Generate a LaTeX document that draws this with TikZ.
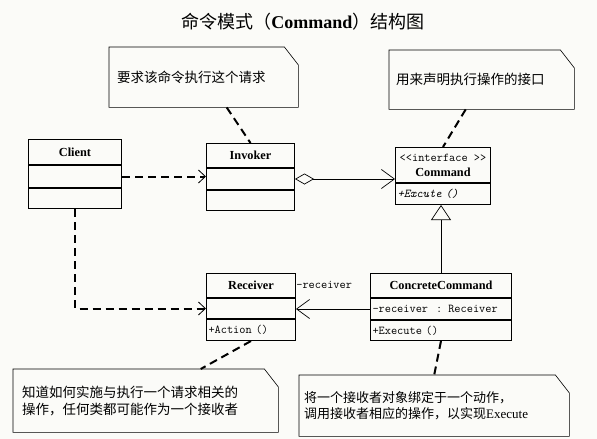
\documentclass[tikz,border=0pt]{standalone}
\usepackage{fontspec}
\setmainfont{Liberation Serif}
\newfontfamily\cjk{Noto Sans CJK SC}
\usetikzlibrary{arrows.meta}
\definecolor{paper}{RGB}{251,251,248}
\newcommand{\noteframe}[1]{%
  \draw[line width=0.6pt] (#1.north west) -- ([xshift=-14pt]#1.north east)
    -- ([yshift=-18pt]#1.north east) -- (#1.south east)
    -- (#1.south west) -- cycle;}

\begin{document}
\begin{tikzpicture}[x=1pt,y=-1pt]
    \tikzstyle{classname}=[draw,line width=1pt,anchor=north west,inner sep=0pt,align=center,font=\bfseries\fontsize{12.3pt}{15pt}\selectfont]
    \tikzstyle{classpart}=[draw,line width=1pt,anchor=north,inner xsep=2pt,inner ysep=0pt,align=left,font=\ttfamily\fontsize{12pt}{13pt}\selectfont]
    \tikzstyle{note}=[anchor=north west,inner ysep=0pt,align=left,font=\cjk\fontsize{13.5pt}{17pt}\selectfont]
    \tikzstyle{dep}=[line width=2pt,dash pattern=on 8pt off 5pt]
    \tikzstyle{usage}=[dep,-{Straight Barb[length=7pt,width=13pt,line width=0.8pt]}]
    \tikzstyle{assoc}=[line width=0.7pt,-{Straight Barb[length=13pt,width=19pt]}]
    \tikzstyle{aggreg}=[line width=0.7pt,{Diamond[open,length=19pt,width=11pt]}-{Straight Barb[length=13pt,width=19pt]}]
    \tikzstyle{generalize}=[line width=0.7pt,-{Triangle[open,length=15pt,width=20pt]}]

    \path[use as bounding box,fill=paper] (0,0) rectangle (597,439);

    \node[font=\fontsize{18pt}{20pt}\selectfont] at (303,22) (title) {{\cjk 命令模式（}\textbf{Command}{\cjk ）结构图}};

    % Client
    \node[classname,minimum width=93pt,minimum height=25pt] at (28,139) (client) {Client};
    \node[classpart,text width=89pt,minimum height=22pt] at (client.south) (clienta) {};
    \node[classpart,text width=89pt,minimum height=20pt] at (clienta.south) (clientm) {};

    % Invoker
    \node[classname,minimum width=88pt,minimum height=24pt] at (206,143) (invoker) {Invoker};
    \node[classpart,text width=84pt,minimum height=21pt] at (invoker.south) (invokera) {};
    \node[classpart,text width=84pt,minimum height=20pt] at (invokera.south) (invokerm) {};

    % Receiver
    \node[classname,minimum width=89pt,minimum height=24pt] at (206,273) (receiver) {Receiver};
    \node[classpart,text width=85pt,minimum height=20pt] at (receiver.south) (receivera) {};
    \node[classpart,text width=85pt,minimum height=21pt] at (receivera.south) (receiverm) {+Action ()};

    % Command
    \node[classname,minimum width=95pt,minimum height=35pt] at (395,147) (command) {{\mdseries\ttfamily\fontsize{12pt}{13pt}\selectfont <<interface >>}\\Command};
    \node[classpart,text width=91pt,minimum height=21pt] at (command.south) (commandm) {\itshape +Excute ()};

    % ConcreteCommand
    \node[classname,minimum width=141pt,minimum height=24pt] at (370,273) (cc) {ConcreteCommand};
    \node[classpart,text width=137pt,minimum height=21pt] at (cc.south) (cca) {-receiver~ : Receiver};
    \node[classpart,text width=137pt,minimum height=20pt] at (cca.south) (ccm) {+Execute ()};

    % notes
    \node[note,inner xsep=8pt,text width=173pt,minimum height=60pt] at (109,47) (note1) {要求该命令执行这个请求};
    \noteframe{note1}
    \node[note,inner xsep=7pt,text width=171pt,minimum height=59pt] at (389,50) (note2) {用来声明执行操作的接口};
    \noteframe{note2}
    \node[note,inner xsep=9pt,text width=247pt,minimum height=63pt] at (13,369) (note3) {知道如何实施与执行一个请求相关的\\操作，任何类都可能作为一个接收者};
    \noteframe{note3}
    \node[note,inner xsep=5pt,text width=260pt,minimum height=61pt,font=\cjk\fontsize{13pt}{16pt}\selectfont] at (299,375) (note4) {将一个接收者对象绑定于一个动作，\\调用接收者相应的操作，以实现{\rmfamily Execute}};
    \noteframe{note4}

    \draw[usage] (clienta.east) -- (clienta.east -| invokera.west);
    \draw[usage] (clientm.south) |- (receivera.west);
    \draw[aggreg] (invokera.east) -- (invokera.east -| command.west);
    \draw[generalize] (cc.north) -- (cc.north |- commandm.south);
    \draw[assoc] (cca.west) -- (cca.west -| receivera.east) node[anchor=west,inner sep=0pt,yshift=24pt,font=\ttfamily\fontsize{12pt}{13pt}\selectfont] (rolelabel) {-receiver};

    \draw[dep] ([xshift=23pt]note1.south) -- (invoker.north);
    \draw[dep] ([xshift=-16pt]note2.south) -- (command.north);
    \draw[dep] (receiverm.south) -- ([xshift=55pt]note3.north);
    \draw[dep] (ccm.south) -- (note4.north);
\end{tikzpicture}
\end{document}
